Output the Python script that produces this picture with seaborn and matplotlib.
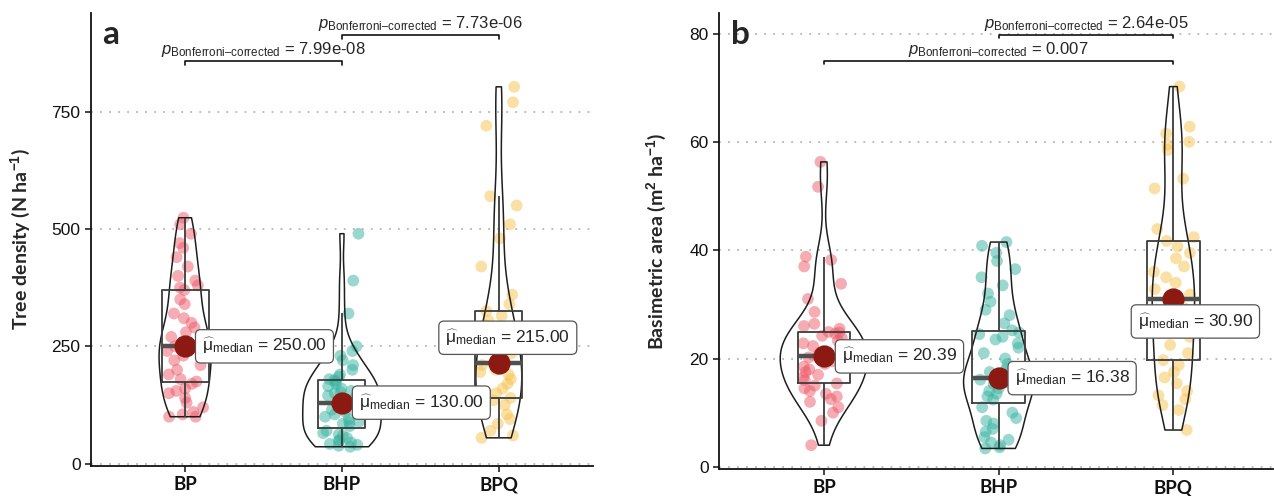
import matplotlib
matplotlib.use('Agg')
import matplotlib.pyplot as plt
import numpy as np
import pandas as pd
import seaborn as sns

GROUPS = ['BP', 'BHP', 'BPQ']
PALETTE = {'BP': '#EE5A68', 'BHP': '#36B3A0', 'BPQ': '#F6C24C'}

# Tree density (N ha-1), one value per plot
DENSITY_BP = [100, 100, 105, 110, 120, 130, 140, 150, 155, 160,
              170, 175, 180, 190, 200, 210, 220, 230, 235, 240,
              245, 250, 250, 255, 260, 270, 280, 290, 300, 310,
              320, 340, 350, 370, 375, 380, 390, 400, 420, 440,
              460, 470, 490, 510, 524]
DENSITY_BHP = [36, 38, 40, 42, 45, 48, 50, 55, 60, 62,
               65, 70, 80, 85, 88, 90, 95, 100, 105, 110,
               115, 120, 125, 130, 135, 140, 145, 150, 152, 155,
               160, 165, 170, 175, 178, 180, 185, 190, 200, 210,
               220, 230, 240, 250, 320, 390, 490]
DENSITY_BPQ = [55, 60, 70, 85, 95, 105, 115, 125, 130, 135,
               140, 150, 160, 170, 180, 190, 195, 200, 205, 210,
               215, 225, 235, 245, 255, 265, 280, 295, 305, 315,
               325, 340, 360, 420, 480, 510, 550, 570, 720, 770, 803]

# Basimetric area (m2 ha-1)
AREA_BP = [4.0, 8.5, 10.0, 11.0, 12.0, 12.5, 13.0, 13.5, 14.0, 14.5,
           15.0, 15.4, 16.0, 16.5, 17.0, 17.5, 18.0, 18.5, 19.0, 19.5,
           20.0, 20.2, 20.39, 20.8, 21.2, 21.8, 22.3, 22.8, 23.3, 23.8,
           24.2, 24.6, 24.8, 24.9, 25.5, 26.0, 26.4, 28.6, 31.0, 33.8,
           37.0, 38.2, 38.8, 51.7, 56.3]
AREA_BHP = [3.4, 3.6, 4.0, 4.5, 5.0, 5.5, 6.5, 7.0, 8.0, 8.5,
            9.0, 10.0, 11.0, 12.4, 13.0, 13.5, 14.0, 14.5, 15.0, 15.3,
            15.6, 15.8, 16.0, 16.1, 16.2, 16.38, 17.0, 17.5, 18.0, 19.0,
            20.0, 21.0, 22.0, 22.8, 23.5, 24.0, 24.5, 24.8, 25.2, 26.5,
            28.0, 29.0, 30.5, 32.0, 33.5, 35.0, 36.5, 38.0, 39.5, 40.8, 41.5]
AREA_BPQ = [6.8, 10.5, 11.4, 12.5, 13.2, 14.0, 15.4, 16.5, 17.5, 18.8,
            19.7, 21.0, 22.5, 24.0, 25.5, 26.5, 27.5, 28.5, 29.3, 30.2,
            30.9, 31.8, 32.8, 34.0, 35.0, 36.0, 37.0, 38.5, 39.5, 40.7,
            41.7, 42.4, 43.9, 51.4, 53.2, 58.5, 59.5, 60.0, 61.5, 62.8, 70.2]

# Pairwise comparisons, lowest bracket first
DENSITY_TESTS = [('BP', 'BHP', '7.99e-08'), ('BHP', 'BPQ', '7.73e-06')]
AREA_TESTS = [('BP', 'BPQ', '0.007'), ('BHP', 'BPQ', '2.64e-05')]

np.random.seed(7)
sns.set_style('ticks')
plt.rcParams['font.family'] = ['Liberation Sans', 'DejaVu Sans']
plt.rcParams['mathtext.fontset'] = 'custom'
plt.rcParams['mathtext.rm'] = 'Liberation Sans'
plt.rcParams['mathtext.it'] = 'Liberation Sans:italic'
plt.rcParams['mathtext.bf'] = 'Liberation Sans:bold'


def to_frame(bp, bhp, bpq):
    """Long table with one row per observation."""
    parts = [pd.DataFrame({'group': g, 'value': v}) for g, v in zip(GROUPS, [bp, bhp, bpq])]
    return pd.concat(parts, ignore_index=True)


def draw_panel(ax, data, ylabel, letter, ylim, xlim, yticks, tests, label_style):
    common = dict(data=data, x='group', y='value', order=GROUPS, ax=ax)
    sns.stripplot(**common, hue='group', palette=PALETTE, jitter=0.12, size=8.5,
                  alpha=0.5, linewidth=0, legend=False, zorder=1)
    sns.boxplot(**common, width=0.3, fill=False, color='#3c3c3c', linewidth=1.3,
                showfliers=False, showcaps=False,
                medianprops={'linewidth': 3.2, 'color': '#505050'})
    sns.violinplot(**common, width=0.5, fill=False, color='#1e1e1e', linewidth=1.1,
                   inner=None, cut=0, bw_method='silverman', bw_adjust=0.8,
                   density_norm='area')
    sns.pointplot(**common, estimator='median', errorbar=None, linestyle='none',
                  color='#8C1A12', markersize=14, zorder=5)

    # median labels
    medians = data.groupby('group')['value'].median()
    for i, g in enumerate(GROUPS):
        dx, dy, ha = label_style[g]
        ax.annotate(r'$\widehat{\mathrm{\mu}}_{\mathrm{median}}$' + f' = {medians[g]:.2f}',
                    xy=(i, medians[g]), xytext=(dx, dy), textcoords='offset pixels',
                    ha=ha, va='center', fontsize=12.5, zorder=6,
                    bbox=dict(boxstyle='round,pad=0.38,rounding_size=0.3',
                              fc='white', ec='#555555', lw=0.9))

    # significance brackets
    span = ylim[1] - ylim[0]
    top = data['value'].max()
    for k, (g1, g2, p) in enumerate(tests):
        y = top + (k + 1) * 0.057 * span
        x1, x2 = GROUPS.index(g1), GROUPS.index(g2)
        tick = 0.008 * span
        ax.plot([x1, x1, x2, x2], [y - tick, y, y, y - tick], color='#111111', lw=1.2)
        ax.annotate('$p_{\\mathrm{Bonferroni–corrected}}$' + f' = {p}', xy=((x1 + x2) / 2, y),
                    xytext=(0, 2), textcoords='offset pixels', ha='center', va='bottom',
                    fontsize=12)

    ax.set_xlim(*xlim)
    ax.set_ylim(*ylim)
    ax.set_yticks(yticks)
    ax.set_xlabel('')
    ax.set_ylabel(ylabel, fontsize=14, fontweight='bold', family='Lato')
    ax.yaxis.grid(True, linestyle=(0, (1, 4)), color='#b5b5b5', linewidth=1.3)
    ax.set_axisbelow(True)
    sns.despine(ax=ax)
    for side in ('left', 'bottom'):
        ax.spines[side].set_linewidth(1.3)
        ax.spines[side].set_color('#111111')
    ax.tick_params(axis='y', labelsize=12.5, length=4, width=1.1, colors='#111111')
    ax.tick_params(axis='x', length=4, width=1.1, colors='#111111')
    for lab in ax.get_xticklabels():
        lab.set_fontfamily('Lato')
        lab.set_fontweight('bold')
        lab.set_fontsize(13.5)
    ax.text(0.022, 0.985, letter, transform=ax.transAxes, ha='left', va='top',
            fontsize=24, fontweight='bold', family='Lato')


fig = plt.figure(figsize=(12.74, 4.96), dpi=100)
ax_a = fig.add_axes([0.0714, 0.0605, 0.394, 0.913])
ax_b = fig.add_axes([0.5644, 0.0544, 0.4348, 0.919])

draw_panel(ax_a, to_frame(DENSITY_BP, DENSITY_BHP, DENSITY_BPQ),
           r'Tree density (N ha$^{\mathbf{-1}}$)', 'a', (-5, 960), (-0.6, 2.6),
           [0, 250, 500, 750], DENSITY_TESTS,
           {'BP': (17, 0, 'left'), 'BHP': (17, 0, 'left'), 'BPQ': (9, 25, 'center')})
draw_panel(ax_b, to_frame(AREA_BP, AREA_BHP, AREA_BPQ),
           r'Basimetric area (m$^{\mathbf{2}}$ ha$^{\mathbf{-1}}$)', 'b', (-0.4, 83.75), (-0.6, 2.57),
           [0, 20, 40, 60, 80], AREA_TESTS,
           {'BP': (18, 0, 'left'), 'BHP': (16, 0, 'left'), 'BPQ': (22, -22, 'center')})
ax_a.yaxis.set_label_coords(-0.118, 0.5)
ax_b.yaxis.set_label_coords(-0.092, 0.5)

fig.savefig('out.png', dpi=100)
